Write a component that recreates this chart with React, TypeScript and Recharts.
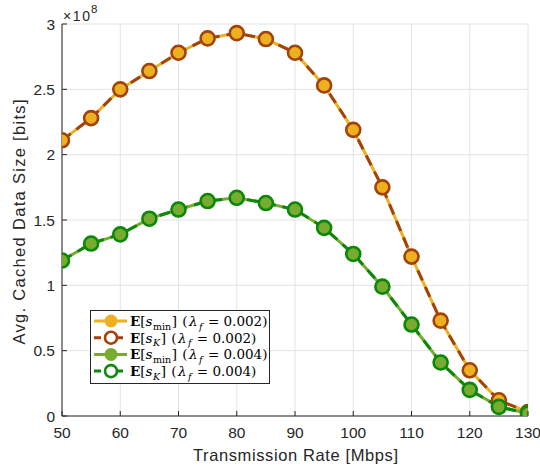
import React from 'react';
import { LineChart, Line, XAxis, YAxis, CartesianGrid } from 'recharts';

const rates = [50, 55, 60, 65, 70, 75, 80, 85, 90, 95, 100, 105, 110, 115, 120, 125, 130];
const sMin002 = [2.11, 2.28, 2.5, 2.64, 2.78, 2.89, 2.93, 2.885, 2.78, 2.53, 2.19, 1.75, 1.22, 0.73, 0.35, 0.12, 0.03];
const sK002 = [2.11, 2.28, 2.5, 2.64, 2.78, 2.89, 2.93, 2.885, 2.78, 2.53, 2.19, 1.75, 1.22, 0.73, 0.35, 0.12, 0.03];
const sMin004 = [1.19, 1.32, 1.39, 1.51, 1.58, 1.645, 1.67, 1.63, 1.58, 1.44, 1.24, 0.99, 0.7, 0.41, 0.2, 0.07, 0.02];
const sK004 = [1.19, 1.32, 1.39, 1.51, 1.58, 1.645, 1.67, 1.63, 1.58, 1.44, 1.24, 0.99, 0.7, 0.41, 0.2, 0.07, 0.02];
const xTicks = [50, 60, 70, 80, 90, 100, 110, 120, 130];
const yTicks = [0, 0.5, 1, 1.5, 2, 2.5, 3];

const YELLOW = '#EDB120';
const BROWN = '#A2420C';
const LGREEN = '#77AC30';
const DGREEN = '#0A880A';
const AXIS = '#262626';
const SANS = 'Liberation Sans, Arial, sans-serif';
const SERIF = 'DejaVu Serif, Liberation Serif, serif';

const data = rates.map((r, i) => ({
  rate: r,
  a: sMin002[i],
  b: sK002[i],
  c: sMin004[i],
  d: sK004[i],
}));

const filledDot = (color: string) => (props: any) => (
  <circle key={`f-${props.index}`} cx={props.cx} cy={props.cy} r={7} fill={color} stroke={color} strokeWidth={1.5} />
);
const openDot = (color: string) => (props: any) => (
  <circle key={`o-${props.index}`} cx={props.cx} cy={props.cy} r={7} fill="none" stroke={color} strokeWidth={2.6} />
);

const XTick = (props: any) => {
  const { x, y, payload } = props;
  return (
    <g>
      <line x1={x} x2={x} y1={y} y2={y - 5} stroke={AXIS} strokeWidth={1} />
      <text x={x} y={y + 22} textAnchor="middle" fontFamily={SANS} fontSize={15.5} fill={AXIS}>
        {payload.value}
      </text>
    </g>
  );
};

const YTick = (props: any) => {
  const { x, y, payload } = props;
  return (
    <g>
      <line x1={x} x2={x + 5} y1={y} y2={y} stroke={AXIS} strokeWidth={1} />
      <text x={x - 7} y={y + 5.5} textAnchor="end" fontFamily={SANS} fontSize={15.5} fill={AXIS}>
        {String(payload.value)}
      </text>
    </g>
  );
};

const legendRows = [
  { sub: 'min', subItalic: false, lam: '0.002', line: YELLOW, dash: undefined, open: false },
  { sub: 'K', subItalic: true, lam: '0.002', line: BROWN, dash: '7 4', open: true },
  { sub: 'min', subItalic: false, lam: '0.004', line: LGREEN, dash: undefined, open: false },
  { sub: 'K', subItalic: true, lam: '0.004', line: DGREEN, dash: '7 4', open: true },
];

const LegendBox = () => (
  <g transform="translate(90 310)">
    <rect x={0.5} y={0.5} width={179} height={73} fill="#fff" stroke={AXIS} strokeWidth={1} />
    {legendRows.map((r, i) => {
      const cy = 11 + i * 16.7;
      return (
        <g key={i}>
          <line x1={4} x2={37} y1={cy} y2={cy} stroke={r.line} strokeWidth={3} strokeDasharray={r.dash} />
          {r.open ? (
            <circle cx={21} cy={cy} r={6} fill="#fff" stroke={r.line} strokeWidth={2.6} />
          ) : (
            <circle cx={21} cy={cy} r={6.5} fill={r.line} />
          )}
          <text x={40} y={cy + 5} fontFamily={SERIF} fontSize={13.5} fill="#000">
            <tspan fontWeight="bold">E</tspan>
            <tspan>[</tspan>
            <tspan fontStyle="italic">s</tspan>
            <tspan fontSize={9.5} dx={0.5} dy={3.5} fontStyle={r.subItalic ? 'italic' : 'normal'}>{r.sub}</tspan>
            <tspan dx={0.5} dy={-3.5}>]</tspan>
            <tspan dx={1}> (</tspan>
            <tspan dx={1.5} fontStyle="italic">λ</tspan>
            <tspan fontSize={9.5} dx={1.5} dy={3.5} fontStyle="italic">f</tspan>
            <tspan dx={1} dy={-3.5}>{` = ${r.lam})`}</tspan>
          </text>
        </g>
      );
    })}
  </g>
);

export default function App() {
  return (
    <div style={{ position: 'absolute', left: 0, top: 0, width: 540, height: 468, background: '#fff' }}>
      <LineChart
        width={540}
        height={468}
        data={data}
        margin={{ top: 24, right: 12, bottom: 22, left: 12 }}
      >
        <CartesianGrid stroke="#e3e3e3" strokeWidth={1} />
        <XAxis
          dataKey="rate"
          type="number"
          domain={[50, 130]}
          ticks={xTicks}
          interval={0}
          height={30}
          tickSize={0}
          tickMargin={0}
          tick={<XTick />}
          tickLine={false}
          axisLine={{ stroke: AXIS, strokeWidth: 1 }}
          allowDataOverflow
        />
        <YAxis
          type="number"
          domain={[0, 3]}
          ticks={yTicks}
          interval={0}
          width={50}
          tickSize={0}
          tickMargin={0}
          tick={<YTick />}
          tickLine={false}
          axisLine={{ stroke: AXIS, strokeWidth: 1 }}
          allowDataOverflow
        />
        <Line dataKey="a" stroke={YELLOW} strokeWidth={3} dot={filledDot(YELLOW)} activeDot={false} isAnimationActive={false} />
        <Line dataKey="b" stroke={BROWN} strokeWidth={3} strokeDasharray="11 7" dot={openDot(BROWN)} activeDot={false} isAnimationActive={false} />
        <Line dataKey="c" stroke={LGREEN} strokeWidth={3} dot={filledDot(LGREEN)} activeDot={false} isAnimationActive={false} />
        <Line dataKey="d" stroke={DGREEN} strokeWidth={3} strokeDasharray="11 7" dot={openDot(DGREEN)} activeDot={false} isAnimationActive={false} />
      </LineChart>
      <svg width={540} height={468} style={{ position: 'absolute', left: 0, top: 0, pointerEvents: 'none' }}>
        <LegendBox />
        <text x={63} y={21} fontFamily={SANS} fontSize={14} fill={AXIS} textLength={27} lengthAdjust="spacing">
          ×10
        </text>
        <text x={91} y={12.5} fontFamily={SANS} fontSize={11.5} fill={AXIS}>
          8
        </text>
        <text x={295.5} y={461} textAnchor="middle" fontFamily={SANS} fontSize={16.5} fill={AXIS} textLength={205} lengthAdjust="spacing">
          Transmission Rate [Mbps]
        </text>
        <text
          x={25}
          y={222}
          textAnchor="middle"
          fontFamily={SANS}
          fontSize={16.5}
          fill={AXIS}
          textLength={245}
          lengthAdjust="spacing"
          transform="rotate(-90 25 222)"
        >
          Avg. Cached Data Size [bits]
        </text>
      </svg>
    </div>
  );
}
